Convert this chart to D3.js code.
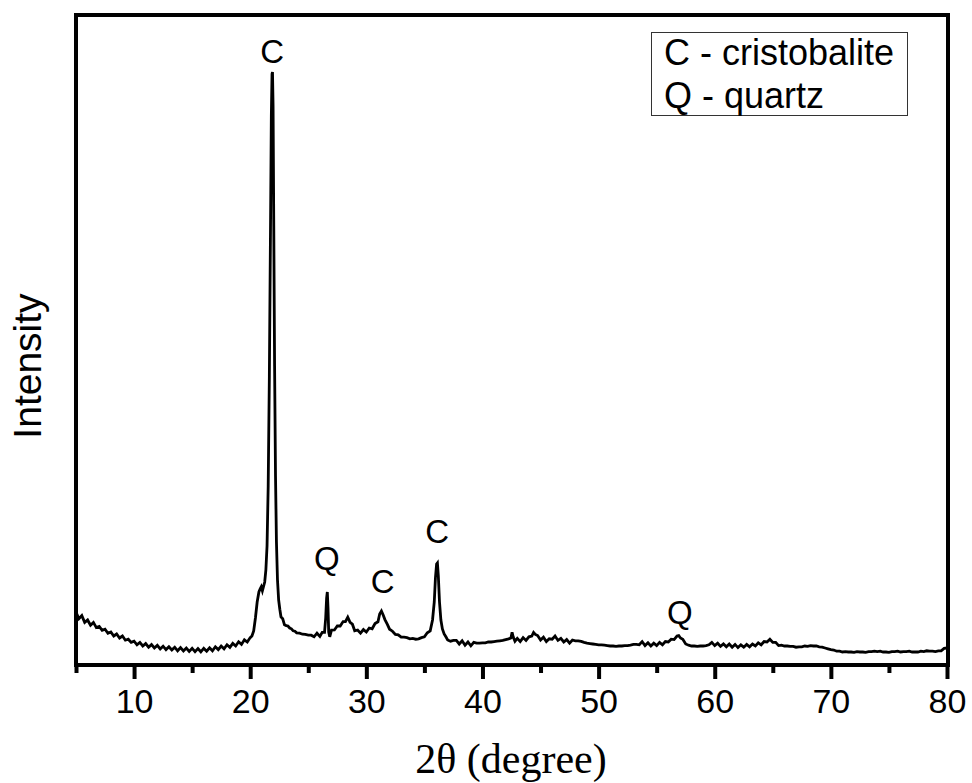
<!DOCTYPE html>
<html>
<head>
<meta charset="utf-8">
<script src="https://cdn.jsdelivr.net/npm/d3@7"></script>
<style>
  html, body { margin: 0; padding: 0; background: #fff; }
  svg { display: block; }
</style>
</head>
<body>
<svg id="chart" width="972" height="783"></svg>
<script>
// ---- data (2θ in degrees, intensity in counts) ----
const xDomain = [5, 80];
const yDomain = [0, 3260];
const majorTicks = [10, 20, 30, 40, 50, 60, 70, 80];
const minorTicks = [5, 15, 25, 35, 45, 55, 65, 75];
const xTitle = "2θ (degree)";
const yTitle = "Intensity";
const legendLines = ["C - cristobalite", "Q - quartz"];
// peak angle and the intensity level where its letter sits
const peakLabels = [
  { angle: 21.9, level: 3015, text: "C" },
  { angle: 26.6, level: 480, text: "Q" },
  { angle: 31.4, level: 365, text: "C" },
  { angle: 36.1, level: 615, text: "C" },
  { angle: 57.0, level: 210, text: "Q" }
];
const pattern = [
 [5.00,270],[5.25,236],[5.50,252],[5.75,218],[6.00,230],[6.25,204],[6.50,218],[6.75,192],
 [7.00,198],[7.25,178],[7.50,184],[7.75,164],[8.00,170],[8.25,150],[8.50,160],[8.75,140],
 [9.00,150],[9.25,129],[9.50,134],[9.75,118],[10.00,124],[10.25,106],[10.50,118],[10.75,100],
 [11.00,112],[11.25,94],[11.50,107],[11.75,90],[12.00,103],[12.25,85],[12.50,99],[12.75,82],
 [13.00,96],[13.25,80],[13.50,94],[13.75,76],[14.00,92],[14.25,75],[14.50,90],[14.75,73],
 [15.00,88],[15.25,72],[15.50,87],[15.75,71],[16.00,88],[16.25,74],[16.50,91],[16.75,76],
 [17.00,96],[17.25,82],[17.50,100],[17.75,86],[18.00,106],[18.25,93],[18.50,113],[18.75,100],
 [19.00,121],[19.25,108],[19.50,131],[19.75,120],[20.00,142],[20.15,150],[20.30,175],[20.45,240],
 [20.60,320],[20.75,370],[20.85,385],[20.95,396],[21.05,376],[21.15,398],[21.25,420],[21.35,480],
 [21.45,600],[21.55,900],[21.65,1450],[21.75,2200],[21.82,2750],[21.88,2960],[21.92,2970],[21.97,2800],
 [22.03,2200],[22.10,1500],[22.18,950],[22.26,620],[22.35,430],[22.45,330],[22.55,284],[22.65,246],
 [22.80,236],[22.95,206],[23.10,202],[23.25,200],[23.40,190],[23.55,186],[23.70,176],[23.85,174],
 [24.00,166],[24.25,164],[24.50,159],[24.75,158],[25.00,154],[25.25,154],[25.50,146],[25.75,164],
 [26.00,148],[26.20,168],[26.40,168],[26.50,240],[26.58,340],[26.64,370],[26.70,290],[26.76,170],
 [26.85,146],[27.00,179],[27.25,180],[27.50,200],[27.75,200],[28.00,222],[28.20,222],[28.40,244],
 [28.60,218],[28.80,209],[29.00,176],[29.25,180],[29.50,164],[29.75,182],[30.00,170],[30.25,190],
 [30.50,186],[30.75,212],[31.00,221],[31.15,260],[31.30,275],[31.45,255],[31.60,232],[31.80,209],
 [32.00,184],[32.25,174],[32.50,158],[32.75,156],[33.00,144],[33.25,144],[33.50,142],[33.75,136],
 [34.00,138],[34.25,134],[34.50,136],[34.75,142],[35.00,146],[35.25,166],[35.50,176],[35.70,230],
 [35.85,320],[35.95,440],[36.05,510],[36.12,515],[36.20,450],[36.30,320],[36.42,230],[36.55,185],
 [36.70,160],[36.85,146],[37.00,130],[37.25,124],[37.50,128],[37.75,128],[38.00,110],[38.25,126],
 [38.50,104],[38.75,120],[39.00,101],[39.25,118],[39.50,114],[39.75,114],[40.00,116],[40.25,116],
 [40.50,120],[40.75,120],[41.00,122],[41.25,124],[41.50,126],[41.75,128],[42.00,132],[42.25,136],
 [42.45,140],[42.55,168],[42.65,145],[42.80,124],[43.00,138],[43.25,122],[43.50,142],[43.75,128],
 [44.00,146],[44.25,150],[44.40,168],[44.55,158],[44.75,152],[45.00,130],[45.25,144],[45.50,122],
 [45.75,136],[46.00,134],[46.25,150],[46.50,128],[46.75,138],[47.00,120],[47.25,132],[47.50,114],
 [47.75,130],[48.00,126],[48.25,126],[48.50,123],[48.75,118],[49.00,114],[49.25,112],[49.50,110],
 [49.75,108],[50.00,106],[50.25,106],[50.50,104],[50.75,102],[51.00,100],[51.25,100],[51.50,98],
 [51.75,100],[52.00,100],[52.25,102],[52.50,102],[52.75,104],[53.00,108],[53.25,108],[53.50,106],
 [53.75,122],[54.00,102],[54.25,116],[54.50,100],[54.75,114],[55.00,102],[55.25,118],[55.50,106],
 [55.75,122],[56.00,120],[56.25,134],[56.50,132],[56.75,150],[56.90,152],[57.05,140],[57.25,134],
 [57.50,110],[57.75,104],[58.00,100],[58.25,100],[58.50,98],[58.75,100],[59.00,100],[59.25,102],
 [59.50,106],[59.75,118],[60.00,102],[60.25,114],[60.50,98],[60.75,110],[61.00,96],[61.25,110],
 [61.50,94],[61.75,108],[62.00,92],[62.25,106],[62.50,94],[62.75,108],[63.00,96],[63.25,110],
 [63.50,100],[63.75,116],[64.00,106],[64.25,122],[64.50,120],[64.75,134],[65.00,118],[65.25,118],
 [65.50,102],[65.75,104],[66.00,100],[66.25,100],[66.50,98],[66.75,98],[67.00,94],[67.25,96],
 [67.50,96],[67.75,100],[68.00,98],[68.25,102],[68.50,100],[68.75,100],[69.00,96],[69.25,94],
 [69.50,90],[69.75,86],[70.00,82],[70.25,80],[70.50,74],[70.75,74],[71.00,70],[71.25,72],
 [71.50,70],[71.75,70],[72.00,68],[72.25,72],[72.50,70],[72.75,70],[73.00,68],[73.25,72],
 [73.50,72],[73.75,74],[74.00,72],[74.25,74],[74.50,70],[74.75,70],[75.00,68],[75.25,72],
 [75.50,72],[75.75,74],[76.00,70],[76.25,72],[76.50,72],[76.75,74],[77.00,70],[77.25,70],
 [77.50,70],[77.75,74],[78.00,72],[78.25,76],[78.50,74],[78.75,74],[79.00,72],[79.25,76],
 [79.50,76],[79.75,88],[80.00,90]
];

// ---- layout ----
const plot = { left: 76, right: 948, top: 15, bottom: 665 };
const sans = "'Liberation Sans', Arial, Helvetica, sans-serif";
const serif = "'Liberation Serif', 'Times New Roman', serif";

const svg = d3.select("#chart");
const x = d3.scaleLinear().domain(xDomain).range([plot.left, plot.right - 1]);
const y = d3.scaleLinear().domain(yDomain).range([plot.bottom + 1, plot.top - 1]);

svg.append("defs").append("clipPath").attr("id", "clip")
  .append("rect")
  .attr("x", plot.left).attr("y", plot.top)
  .attr("width", plot.right - plot.left).attr("height", plot.bottom - plot.top);

// pattern line (drawn twice with a slight offset-free dash to thicken the noise)
const line = d3.line().x(d => x(d[0])).y(d => y(d[1]));
svg.append("path")
  .datum(pattern)
  .attr("clip-path", "url(#clip)")
  .attr("fill", "none")
  .attr("stroke", "#000")
  .attr("stroke-width", 2.8)
  .attr("stroke-linejoin", "miter")
  .attr("d", line);

// bottom axis with major ticks
const xAxis = d3.axisBottom(x)
  .tickValues(majorTicks)
  .tickSize(14)
  .tickPadding(10)
  .tickFormat(d3.format("d"));
const gx = svg.append("g")
  .attr("transform", `translate(0,${plot.bottom})`)
  .call(xAxis);
gx.select(".domain").remove();
gx.selectAll(".tick line").attr("stroke", "#000").attr("stroke-width", 4);
gx.selectAll(".tick text")
  .attr("fill", "#000")
  .style("font-family", sans)
  .style("font-size", "34px");

// minor ticks
const xMinor = d3.axisBottom(x).tickValues(minorTicks).tickSize(8).tickFormat("");
const gm = svg.append("g")
  .attr("transform", `translate(0,${plot.bottom})`)
  .call(xMinor);
gm.select(".domain").remove();
gm.selectAll(".tick line").attr("stroke", "#000").attr("stroke-width", 4);

// frame
svg.append("rect")
  .attr("x", plot.left).attr("y", plot.top)
  .attr("width", plot.right - plot.left).attr("height", plot.bottom - plot.top)
  .attr("fill", "none").attr("stroke", "#000").attr("stroke-width", 4);

// axis titles
svg.append("text")
  .attr("x", 511).attr("y", 773)
  .attr("text-anchor", "middle")
  .style("font-family", serif)
  .style("font-size", "42px")
  .text(xTitle);

svg.append("text")
  .attr("transform", "translate(41,366) rotate(-90)")
  .attr("text-anchor", "middle")
  .style("font-family", sans)
  .style("font-size", "39px")
  .text(yTitle);

// peak labels
svg.append("g").selectAll("text")
  .data(peakLabels)
  .join("text")
  .attr("x", d => x(d.angle))
  .attr("y", d => y(d.level))
  .attr("text-anchor", "middle")
  .style("font-family", sans)
  .style("font-size", "33px")
  .text(d => d.text);

// legend box
const lg = svg.append("g");
lg.append("rect")
  .attr("x", 651.5).attr("y", 32.5).attr("width", 256).attr("height", 83)
  .attr("fill", "#fff").attr("stroke", "#333").attr("stroke-width", 1);
lg.selectAll("text")
  .data(legendLines)
  .join("text")
  .attr("x", 664)
  .attr("y", (d, i) => 65 + i * 43)
  .style("font-family", sans)
  .style("font-size", "36px")
  .text(d => d);
</script>
</body>
</html>
